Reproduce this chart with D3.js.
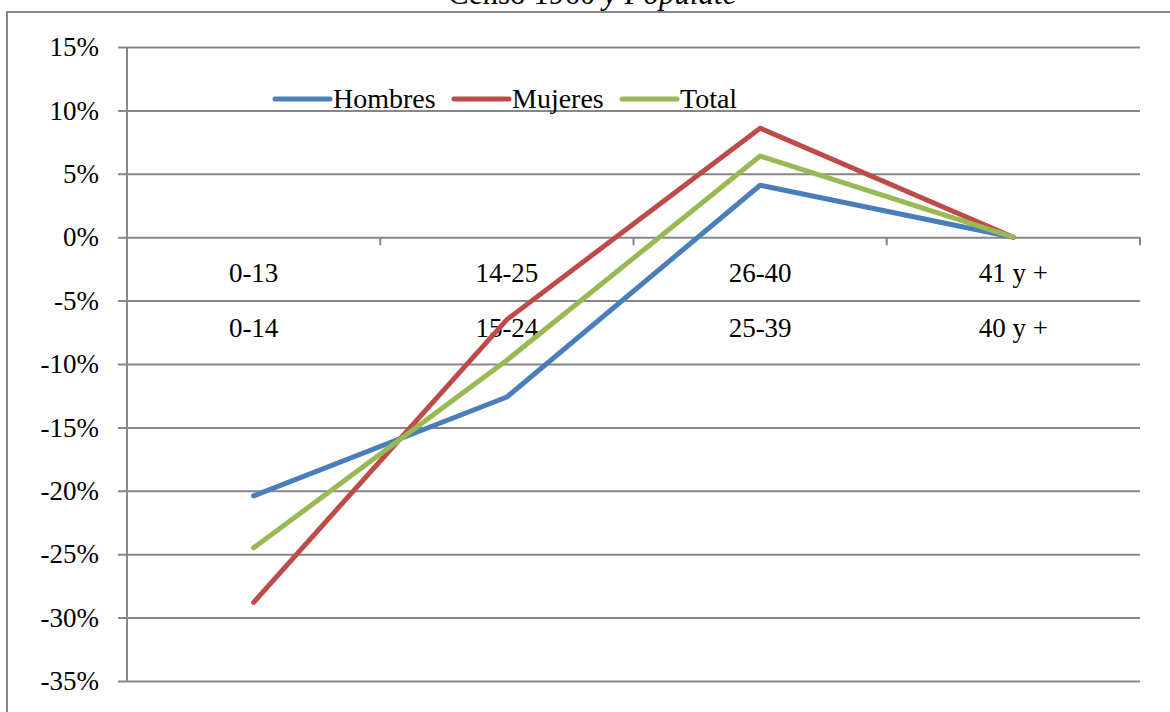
<!DOCTYPE html>
<html>
<head>
<meta charset="utf-8">
<script src="https://cdn.jsdelivr.net/npm/d3@7"></script>
<style>
  html, body { margin: 0; padding: 0; background: #ffffff; }
  svg { display: block; }
  svg text { font-family: "Liberation Serif", "DejaVu Serif", serif !important; }
</style>
</head>
<body>
<svg id="chart" width="1170" height="712"></svg>
<script>
// Age-group change by sex (percentage points)
const groupsTop    = ["0-13", "14-25", "26-40", "41 y +"];
const groupsBottom = ["0-14", "15-24", "25-39", "40 y +"];
const seriesNames  = ["Hombres", "Mujeres", "Total"];
const hombres = [-20.4, -12.6, 4.1, 0];
const mujeres = [-28.8, -6.5, 8.6, 0];
const total   = [-24.5, -9.7, 6.4, 0];
const yTicks  = [15, 10, 5, 0, -5, -10, -15, -20, -25, -30, -35];
const colors  = ["#4a7ebb", "#be4b48", "#98b954"];

const series = [hombres, mujeres, total];

const svg = d3.select("#chart");
const grid = "#878787";

// outer frame (runs past the right and bottom edges)
svg.append("rect")
  .attr("x", 7).attr("y", 12).attr("width", 1200).attr("height", 760)
  .attr("fill", "none").attr("stroke", grid).attr("stroke-width", 2);

// title, mostly above the frame
const title = svg.append("text")
  .attr("x", 448).attr("y", 4)
  .attr("font-size", 31).attr("fill", "#000");
title.append("tspan").text("Censo 1960 ");
title.append("tspan").attr("font-style", "italic").text("y Populate");

const x = d3.scaleBand().domain(d3.range(groupsTop.length)).range([127, 1140]);
const y = d3.scaleLinear().domain([-35, 15]).range([681, 47]);

// horizontal gridlines with outward ticks
const yAxis = d3.axisLeft(y).tickValues(yTicks)
  .tickSize(-(1140 - 118)).tickSizeOuter(0)
  .tickFormat(d => d + "%").tickPadding(19);
const gY = svg.append("g").attr("transform", "translate(118,0)").call(yAxis);
gY.attr("font-family", null).attr("font-size", null);
gY.select(".domain").remove();
gY.selectAll(".tick line").attr("stroke", grid).attr("stroke-width", 2);
gY.selectAll(".tick text")
  .attr("font-size", 27).attr("fill", "#000");

// vertical value axis line
svg.append("line")
  .attr("x1", 127).attr("x2", 127).attr("y1", y(15)).attr("y2", y(-35))
  .attr("stroke", grid).attr("stroke-width", 2);

// category axis at zero with tick marks on band edges
const catEdges = d3.range(groupsTop.length + 1).map(i => 127 + i * x.step());
svg.append("g").selectAll("line").data(catEdges).join("line")
  .attr("x1", d => d).attr("x2", d => d)
  .attr("y1", y(0)).attr("y2", y(0) + 8)
  .attr("stroke", grid).attr("stroke-width", 2);

// two rows of group labels
const cats = svg.append("g").attr("font-size", 27).attr("text-anchor", "middle").attr("fill", "#000");
cats.selectAll("text.top").data(groupsTop).join("text")
  .attr("class", "top")
  .attr("x", (d, i) => x(i) + x.bandwidth() / 2).attr("y", 282).text(d => d);
cats.selectAll("text.bot").data(groupsBottom).join("text")
  .attr("class", "bot")
  .attr("x", (d, i) => x(i) + x.bandwidth() / 2).attr("y", 337).text(d => d);

// series lines
const line = d3.line()
  .x((d, i) => x(i) + x.bandwidth() / 2)
  .y(d => y(d));
svg.append("g").selectAll("path").data(series).join("path")
  .attr("d", line)
  .attr("fill", "none")
  .attr("stroke", (d, i) => colors[i])
  .attr("stroke-width", 5)
  .attr("stroke-linecap", "round")
  .attr("stroke-linejoin", "round");

// legend
const legendX = [275, 454, 622];
const leg = svg.append("g");
seriesNames.forEach((name, i) => {
  leg.append("line")
    .attr("x1", legendX[i]).attr("x2", legendX[i] + 55)
    .attr("y1", 99).attr("y2", 99)
    .attr("stroke", colors[i]).attr("stroke-width", 5)
    .attr("stroke-linecap", "round");
  leg.append("text")
    .attr("x", legendX[i] + 58).attr("y", 108)
    .attr("font-size", 28).attr("fill", "#000")
    .text(name);
});
</script>
</body>
</html>
